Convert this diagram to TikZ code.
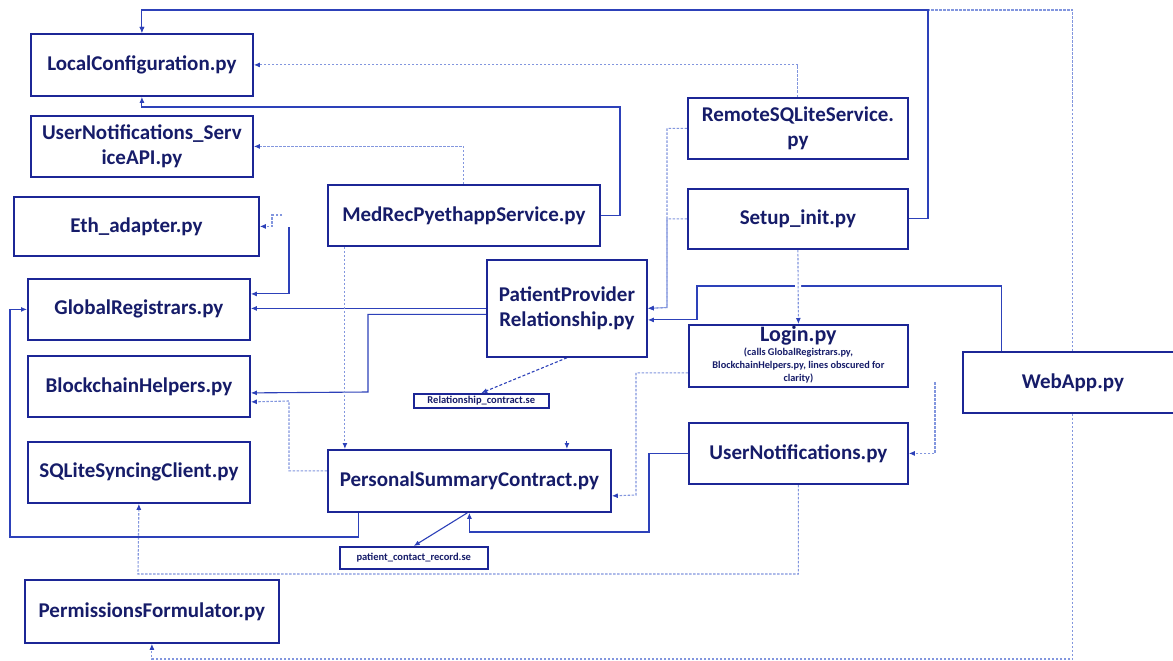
\documentclass[tikz,border=0pt]{standalone}
\usepackage{fontspec}
\setmainfont{Carlito}
\usetikzlibrary{arrows.meta}

\definecolor{boxblue}{RGB}{28,38,150}
\definecolor{inkblue}{RGB}{22,28,105}
\definecolor{wireblue}{RGB}{45,65,185}
\definecolor{faintblue}{RGB}{130,150,222}

\pgfdeclarelayer{bg}
\pgfdeclarelayer{wires}
\pgfsetlayers{bg,wires,main}

\tikzset{
  pybox/.style={draw=boxblue, line width=1.8pt, fill=white, inner sep=0pt,
    anchor=north west, align=center, text=inkblue,
    font=\fontsize{21}{24.5}\selectfont\bfseries},
  sebox/.style={pybox, line width=1.5pt, font=\fontsize{10.5}{12}\selectfont\bfseries},
  wire/.style={draw=wireblue, line width=1.1pt,
    -{Latex[length=6pt,width=5pt,color=wireblue]}},
  faint/.style={wire, draw=faintblue, dash pattern=on 2.5pt off 1.5pt},
  dashwire/.style={wire, dash pattern=on 3pt off 2pt},
  halo/.style={preaction={draw=white, line width=6pt, solid, -, shorten >=10pt}},
}

% box from its top-left corner (x1,y1) to its bottom-right corner (x2,y2)
\newcommand\pybox[6]{\node[pybox, minimum width=#4-#2, minimum height=#5-#3] (#1) at (#2,#3) {#6};}
\newcommand\sebox[6]{\node[sebox, minimum width=#4-#2, minimum height=#5-#3] (#1) at (#2,#3) {#6};}

\begin{document}
\begin{tikzpicture}[x=1pt,y=-1pt]
\begin{pgfonlayer}{bg}
  \fill[white] (0,0) rectangle (1173,661);
\end{pgfonlayer}
\useasboundingbox (0,0) rectangle (1173,661);

% modules
\pybox{LC}{30}{33}{252}{95}{LocalConfiguration.py}
\pybox{SAPI}{30}{115}{252}{176}{UserNotifications\_Serv\\iceAPI.py}
\pybox{Eth}{13}{196}{258}{255}{Eth\_adapter.py}
\pybox{GR}{27}{278}{249}{339}{GlobalRegistrars.py}
\pybox{BH}{27}{355}{249}{416}{BlockchainHelpers.py}
\pybox{SQL}{27}{441}{249}{502}{SQLiteSyncingClient.py}
\pybox{PF}{24}{579}{278}{642}{PermissionsFormulator.py}
\pybox{MR}{327}{184}{599}{245}{MedRecPyethappService.py}
\pybox{PPR}{486}{259}{646}{356}{PatientProvider\\Relationship.py}
\pybox{PSC}{327}{449}{610}{511}{PersonalSummaryContract.py}
\pybox{RS}{687}{97}{907}{158}{RemoteSQLiteService.\\py}
\pybox{SI}{687}{188}{907}{248}{Setup\_init.py}
\pybox{LG}{688}{324}{907}{386}{{\fontsize{22}{22}\selectfont Login.py}\\[-10pt]
  {\fontsize{10.3}{13}\selectfont\begin{tabular}[t]{@{}c@{}}
    (calls GlobalRegistrars.py,\\
    BlockchainHelpers.py, lines obscured for\\
    clarity)\end{tabular}}}
\pybox{UN}{688}{422}{907}{483}{UserNotifications.py}
\pybox{WA}{962}{351}{1182}{412}{WebApp.py}

% contract sources
\sebox{RC}{413}{393}{548}{407}{Relationship\_contract.se}
\sebox{PCR}{339}{546}{487}{568}{patient\_contact\_record.se}

\begin{pgfonlayer}{wires}
  % bus along the top edge into LocalConfiguration
  \coordinate (topR) at (928,10);
  \draw[faint] (WA.north) |- (LC.north |- topR) -- (LC.north);
  \draw[wire] (SI.east) -| (topR) -| (LC.north);
  % bus along the bottom edge into PermissionsFormulator
  \coordinate (botL) at (0,659);
  \draw[faint] (WA.south) |- (PF.south |- botL) -- (PF.south);

  % RemoteSQLiteService -> LocalConfiguration
  \draw[faint] (RS.north) |- (LC.east);
  % MedRecPyethappService -> LocalConfiguration
  \coordinate (mrR) at (620,107);
  \draw[wire] (MR.east) -| (mrR) -| (LC.south);
  % MedRecPyethappService -> UserNotifications_ServiceAPI
  \draw[faint] (MR.north) |- (SAPI.east);

  % short leads into Eth_adapter and GlobalRegistrars
  \coordinate (ethIn) at (282,215);
  \draw[faint] (ethIn) -- (272,215) |- (Eth.east);
  \coordinate (grIn) at (289,227);
  \draw[wire] (grIn) |- ([yshift=15.5]GR.east);

  % PatientProviderRelationship -> GlobalRegistrars / BlockchainHelpers
  \draw[wire] (PPR.west) -- (PPR.west -| GR.east);
  \coordinate (ppbh) at (368,392);
  \draw[wire] ([yshift=-6]PPR.west) -| (ppbh) -- ([yshift=-6.5]BH.east);
  % PersonalSummaryContract -> BlockchainHelpers
  \coordinate (psbh) at (289,401);
  \draw[faint] ([yshift=10]PSC.west) -| (psbh) -- ([yshift=-15.5]BH.east);

  % MedRecPyethappService -> PersonalSummaryContract
  \coordinate (mrd) at ([xshift=-119]MR.south);
  \draw[faint] (mrd) -- (mrd |- PSC.north);
  % PatientProviderRelationship -> Relationship_contract.se
  \draw[dashwire] (PPR.south) -- (RC.north);

  % RemoteSQLiteService / Setup_init -> PatientProviderRelationship
  \coordinate (sipp) at (667,307.5);
  \draw[faint] (RS.west) -| (sipp) -- (PPR.east);
  \draw[faint] (SI.west) -| (sipp) -- (PPR.east);
  % WebApp -> PatientProviderRelationship
  \coordinate (waL) at ([xshift=-71]WA.north);
  \coordinate (wapp) at (697,286);
  \draw[wire] (waL) |- (wapp) |- ([yshift=-11.5]PPR.east);

  % Setup_init -> Login, cutting through the WebApp line
  \draw[faint, halo] (SI.south) -- (LG.north);
  % Login -> PersonalSummaryContract
  \coordinate (lgps) at (636,495);
  \draw[faint] ([yshift=-17]LG.west) -| (lgps) -- ([yshift=-15]PSC.east);
  % lead into UserNotifications
  \coordinate (unIn) at (935,382);
  \draw[faint] (unIn) |- (UN.east);
  % UserNotifications -> PersonalSummaryContract
  \coordinate (unps) at (649,532);
  \draw[wire] (UN.west) -| (unps) -| (PSC.south);
  % PersonalSummaryContract -> patient_contact_record.se
  \draw[wire] ([xshift=-2]PSC.south) -- (PCR.north);
  % UserNotifications -> SQLiteSyncingClient
  \coordinate (unsq) at (138,574);
  \draw[faint] (UN.south) |- (unsq) -- (SQL.south);
  % PersonalSummaryContract -> GlobalRegistrars
  \coordinate (psgr) at ([xshift=-110.5]PSC.south);
  \coordinate (lft) at (10,537);
  \draw[wire] (psgr) |- (lft) |- (GR.west);
  % short lead into PersonalSummaryContract
  \draw[wire] ([xshift=97.5,yshift=8]PSC.north) -- ([xshift=97.5]PSC.north);
\end{pgfonlayer}
\end{tikzpicture}
\end{document}
